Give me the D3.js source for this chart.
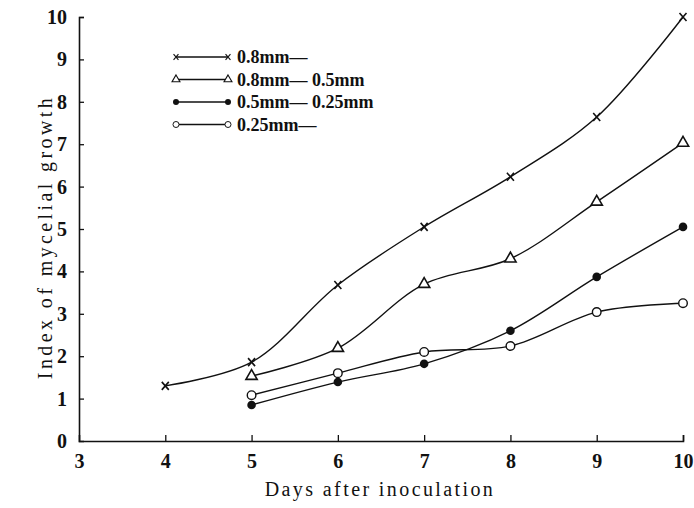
<!DOCTYPE html>
<html>
<head>
<meta charset="utf-8">
<script src="https://cdn.jsdelivr.net/npm/d3@7"></script>
<style>
  body { margin: 0; background: #fff; }
  text { font-family: "Liberation Serif", "DejaVu Serif", serif; }
</style>
</head>
<body>
<svg width="694" height="508"></svg>
<script>
// series
const days = [4, 5, 6, 7, 8, 9, 10];
const seriesNames = ["0.8mm\u2014", "0.8mm\u2014 0.5mm", "0.5mm\u2014 0.25mm", "0.25mm\u2014"];
const over08 = [1.3, 1.86, 3.68, 5.05, 6.23, 7.64, 10.0];
const mm08to05 = [null, 1.53, 2.19, 3.7, 4.3, 5.64, 7.03];
const mm05to025 = [null, 0.85, 1.39, 1.82, 2.6, 3.87, 5.05];
const under025 = [null, 1.08, 1.6, 2.1, 2.24, 3.04, 3.25];
const xTicks = [3, 4, 5, 6, 7, 8, 9, 10];
const yTicks = [0, 1, 2, 3, 4, 5, 6, 7, 8, 9, 10];
const markers = ["cross", "triangle", "dot", "circle"];

const svg = d3.select("svg"),
    margin = {top: 17, right: 11, bottom: 67, left: 79},
    width = +svg.attr("width") - margin.left - margin.right,
    height = +svg.attr("height") - margin.top - margin.bottom,
    g = svg.append("g").attr("transform", "translate(" + margin.left + "," + margin.top + ")");

const x = d3.scaleLinear().domain([3, 10]).range([0, width]);
const y = d3.scaleLinear().domain([0, 10]).range([height, 0]);

const allSeries = [over08, mm08to05, mm05to025, under025].map(function(vals, i) {
  return {
    name: seriesNames[i],
    marker: markers[i],
    points: days.map(function(d, j) { return {day: d, value: vals[j]}; })
      .filter(function(p) { return p.value != null; })
  };
});

// axes
const xAxis = g.append("g")
    .attr("transform", "translate(0," + height + ")")
    .call(d3.axisBottom(x).tickValues(xTicks).tickSize(-6).tickPadding(11).tickFormat(d3.format("d")));
const yAxis = g.append("g")
    .call(d3.axisLeft(y).tickValues(yTicks).tickSize(-5).tickPadding(10).tickFormat(d3.format("d")));

[xAxis, yAxis].forEach(function(a) {
  a.select(".domain").attr("stroke", "#111").attr("stroke-width", 1.6);
  a.selectAll(".tick line").attr("stroke", "#111").attr("stroke-width", 1.3);
  a.selectAll(".tick text")
    .attr("fill", "#111")
    .style("font-size", "20px")
    .style("font-weight", "bold");
});
xAxis.selectAll(".tick").filter(function(d) { return d === 3; }).select("line").remove();
yAxis.selectAll(".tick").filter(function(d) { return d === 0; }).select("line").remove();
xAxis.selectAll(".tick text").attr("dy", "0.8em");
yAxis.selectAll(".tick text").attr("dx", "-2px");

// axis titles
svg.append("text")
    .attr("x", margin.left + width / 2 - 1)
    .attr("y", 496)
    .attr("text-anchor", "middle")
    .style("font-size", "20px")
    .style("letter-spacing", "2.4px")
    .attr("fill", "#111")
    .text("Days after inoculation");

svg.append("text")
    .attr("transform", "translate(52," + (margin.top + 220) + ") rotate(-90)")
    .attr("text-anchor", "middle")
    .style("font-size", "20px")
    .style("letter-spacing", "3.4px")
    .attr("fill", "#111")
    .text("Index of mycelial growth");

// lines
const line = d3.line()
    .x(function(d) { return x(d.day); })
    .y(function(d) { return y(d.value); })
    .curve(d3.curveCatmullRom.alpha(0.5));

function drawMarker(sel, type) {
  if (type === "cross") {
    sel.append("path")
      .attr("d", "M-3.5,-4L3.5,4M3.5,-4L-3.5,4")
      .attr("stroke", "#111").attr("stroke-width", 1.6).attr("fill", "none");
  } else if (type === "triangle") {
    sel.append("path")
      .attr("d", d3.symbol().type(d3.symbolTriangle).size(55)())
      .attr("stroke", "#111").attr("stroke-width", 1.6).attr("fill", "#fff");
  } else if (type === "dot") {
    sel.append("circle").attr("r", 4.3).attr("fill", "#111");
  } else {
    sel.append("circle").attr("r", 4.3)
      .attr("stroke", "#111").attr("stroke-width", 1.4).attr("fill", "#fff");
  }
}

const series = g.selectAll(".series")
  .data(allSeries)
  .enter().append("g")
    .attr("class", "series");

series.append("path")
    .attr("d", function(d) { return line(d.points); })
    .attr("fill", "none")
    .attr("stroke", "#111")
    .attr("stroke-width", 1.4);

series.each(function(s) {
  d3.select(this).selectAll(".pt")
    .data(s.points)
    .enter().append("g")
      .attr("class", "pt")
      .attr("transform", function(d) { return "translate(" + x(d.day) + "," + y(d.value) + ")"; })
      .each(function() { drawMarker(d3.select(this), s.marker); });
});

// legend
const legend = svg.append("g").attr("transform", "translate(176,57)");
const rows = legend.selectAll("g")
  .data(allSeries)
  .enter().append("g")
    .attr("transform", function(d, i) { return "translate(0," + (i * 22.5) + ")"; });

rows.append("line")
    .attr("x1", 0).attr("x2", 52)
    .attr("stroke", "#111").attr("stroke-width", 1.3);
rows.each(function(s) {
  const r = d3.select(this);
  drawMarker(r.append("g").attr("transform", "translate(0,0) scale(0.7)"), s.marker);
  drawMarker(r.append("g").attr("transform", "translate(52,0) scale(0.7)"), s.marker);
});
rows.append("text")
    .attr("x", 61)
    .attr("dy", "0.35em")
    .attr("fill", "#111")
    .style("font-size", "18px")
    .style("font-weight", "bold")
    .text(function(d) { return d.name; });
</script>
</body>
</html>
